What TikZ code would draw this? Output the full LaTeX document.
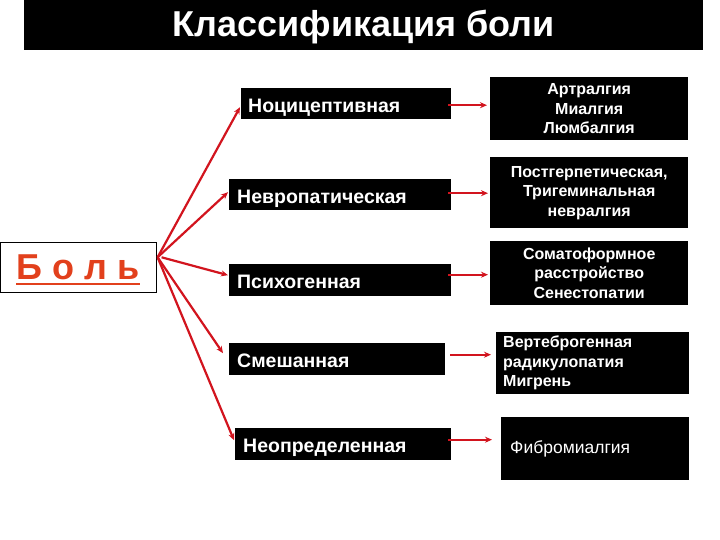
\documentclass[tikz,border=0pt]{standalone}
\usepackage{fontspec}
\setmainfont{Liberation Sans}
\usetikzlibrary{arrows.meta,calc}
\definecolor{arrred}{RGB}{210,20,30}
\definecolor{bolred}{RGB}{226,64,28}
\begin{document}
\begin{tikzpicture}[x=1pt,y=-1pt,
  lbox/.style={fill=black,text=white,font=\bfseries\fontsize{19.5}{22}\selectfont,inner ysep=0pt,anchor=north west,align=left,text height=19pt,text depth=2pt},
  rbox/.style={fill=black,text=white,font=\bfseries\fontsize{16}{19.5}\selectfont,inner ysep=0pt,anchor=north west},
  arr/.style={draw=arrred,line width=2.2pt,-{Stealth[length=7pt,width=6pt]}}]
\useasboundingbox (0,0) rectangle (720,540);
\fill[white] (0,0) rectangle (720,540);
% title
\node[fill=black,anchor=north west,minimum width=679pt,minimum height=50pt,inner sep=0pt] (T) at (24,0) {};
\node[text=white,font=\bfseries\fontsize{36}{40}\selectfont] (Tt) at ([yshift=-2pt]T.center) {Классификация боли};
% Bol
\node[draw=black,line width=0.6pt,fill=white,anchor=north west,minimum width=156pt,minimum height=50pt,inner sep=0pt,
  text=bolred,font=\bfseries\fontsize{36}{38}\selectfont] (B) at (0,242) {Б о л ь};
\draw[bolred,line width=2pt] (16,284) -- (140,284);
% left boxes
\node[lbox,minimum height=31pt,inner xsep=7pt,text width=196pt] (L1) at (241,88) {Ноцицептивная};
\node[lbox,minimum height=31pt,inner xsep=8pt,text width=206pt] (L2) at (229,179) {Невропатическая};
\node[lbox,minimum height=32pt,inner xsep=8pt,text width=206pt] (L3) at (229,264) {Психогенная};
\node[lbox,minimum height=32pt,inner xsep=8pt,text width=200pt] (L4) at (229,343) {Смешанная};
\node[lbox,minimum height=32pt,inner xsep=8pt,text width=200pt] (L5) at (235,428) {Неопределенная};
% right boxes
\node[rbox,minimum height=63pt,inner xsep=0pt,text width=198pt,align=center] (R1) at (490,77) {Артралгия\\Миалгия\\Люмбалгия};
\node[rbox,minimum height=71pt,inner xsep=0pt,text width=198pt,align=center] (R2) at (490,157) {Постгерпетическая,\\Тригеминальная\\невралгия};
\node[rbox,minimum height=64pt,inner xsep=0pt,text width=198pt,align=center] (R3) at (490,241) {Соматоформное\\расстройство\\Сенестопатии};
\node[rbox,minimum height=62pt,inner xsep=7pt,text width=179pt,align=left] (R4) at (496,332) {Вертеброгенная\\радикулопатия\\Мигрень};
\node[rbox,font=\fontsize{17.5}{20}\selectfont,minimum height=63pt,inner xsep=9pt,text width=170pt,align=left] (R5) at (501,417) {Фибромиалгия};
% arrows from Bol
\coordinate (O) at ([xshift=1pt,yshift=10pt]B.east);
\draw[arr] (O) -- ([xshift=-1pt,yshift=-3.5pt]L1.west);
\draw[arr] (O) -- ([xshift=-1pt,yshift=2.5pt]L2.west);
\draw[arr] ([xshift=4pt]O) -- ([xshift=-1pt,yshift=5pt]L3.west);
\draw[arr] (O) -- ([xshift=-6pt,yshift=6pt]L4.west);
\draw[arr] (O) -- ([xshift=-1pt,yshift=4pt]L5.west);
% horizontal arrows
\draw[arr] ([xshift=-3pt,yshift=-1.5pt]L1.east) -- ([xshift=-3pt,yshift=-1.5pt]L1.east -| R1.west);
\draw[arr] ([xshift=-3pt,yshift=1.5pt]L2.east) -- ([xshift=-2pt,yshift=1.5pt]L2.east -| R2.west);
\draw[arr] ([xshift=-3pt,yshift=5.5pt]L3.east) -- ([xshift=-2pt,yshift=5.5pt]L3.east -| R3.west);
\draw[arr] ([xshift=5pt,yshift=4.5pt]L4.east) -- ([xshift=-5pt,yshift=4.5pt]L4.east -| R4.west);
\draw[arr] ([xshift=-3pt,yshift=4.5pt]L5.east) -- ([xshift=-9pt,yshift=4.5pt]L5.east -| R5.west);
\end{tikzpicture}
\end{document}
